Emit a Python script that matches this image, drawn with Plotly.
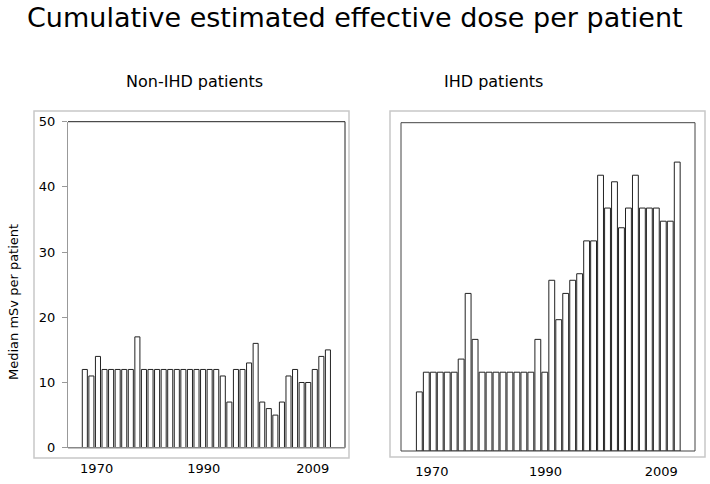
import plotly.graph_objects as go

# ---- data ----
bar_index = list(range(38))
non_ihd = [12, 11, 14, 12, 12, 12, 12, 12, 17, 12, 12, 12, 12, 12, 12, 12, 12, 12, 12, 12,
           12, 11, 7, 12, 12, 13, 16, 7, 6, 5, 7, 11, 12, 10, 10, 12, 14, 15]
ihd = [9, 12, 12, 12, 12, 12, 14, 24, 17, 12, 12, 12, 12, 12, 12, 12, 12, 17, 12, 26,
       20, 24, 26, 27, 32, 32, 42, 37, 41, 34, 37, 42, 37, 37, 37, 35, 35, 44]
x_tick_labels = ["1970", "1990", "2009"]
x_tick_positions = [1.8, 18.1, 34.7]
y_ticks = [0, 10, 20, 30, 40, 50]

W, H = 710, 484
FONT = "DejaVu Sans, Verdana, sans-serif"


def px(x):
    return x / W


def py(y):
    return 1 - y / H


fig = go.Figure()
fig.add_trace(go.Bar(x=bar_index, y=non_ihd, width=0.77, xaxis="x", yaxis="y",
                     marker=dict(color="white", line=dict(color="#222", width=1)),
                     showlegend=False, hoverinfo="y"))
fig.add_trace(go.Bar(x=bar_index, y=ihd, width=0.84, xaxis="x2", yaxis="y2",
                     marker=dict(color="white", line=dict(color="#222", width=1)),
                     showlegend=False, hoverinfo="y"))

common_x = dict(showgrid=False, zeroline=False, showline=False, ticks="", automargin=False,
                tickvals=x_tick_positions, ticktext=x_tick_labels, ticklabelstandoff=11,
                tickfont=dict(family=FONT, size=13, color="black"))

L = dict(x0=68, x1=345, y0=447.7, y1=121.7)
R = dict(x0=401, x1=695, y0=451, y1=122.7)

fig.update_layout(
    template="none",
    width=W, height=H, autosize=False,
    margin=dict(l=0, r=0, t=0, b=0, pad=0),
    paper_bgcolor="white", plot_bgcolor="white",
    font=dict(family=FONT, color="black"),
    xaxis=dict(domain=[px(L["x0"]), px(L["x1"])], range=[-2.56, 39.6], anchor="y", **common_x),
    yaxis=dict(domain=[py(L["y0"]), py(L["y1"])], range=[0, 50], anchor="x", automargin=False,
               tickvals=y_ticks, showgrid=False, zeroline=False,
               showline=True, linecolor="#999", linewidth=1,
               ticks="outside", ticklen=5, tickcolor="#999", ticklabelstandoff=4,
               tickfont=dict(family=FONT, size=13, color="black")),
    xaxis2=dict(domain=[px(R["x0"]), px(R["x1"])], range=[-2.63, 39.55], anchor="y2", **common_x),
    yaxis2=dict(domain=[py(R["y0"]), py(R["y1"])], range=[0, 50], anchor="x2", automargin=False,
                showgrid=False, zeroline=False, showticklabels=False, ticks=""),
)

shapes = []
# outer light-grey boxes
for (x0, y0, x1, y1) in [(34, 111, 349, 458), (390, 111, 705, 457)]:
    shapes.append(dict(type="rect", xref="paper", yref="paper",
                       x0=px(x0), x1=px(x1), y0=py(y1), y1=py(y0),
                       line=dict(color="#c8c8c8", width=1.5), layer="below"))
# left inner frame: top & right dark, bottom grey
shapes.append(dict(type="line", xref="paper", yref="paper", x0=px(L["x0"]), x1=px(L["x1"]),
                   y0=py(L["y1"]), y1=py(L["y1"]), line=dict(color="#222", width=1)))
shapes.append(dict(type="line", xref="paper", yref="paper", x0=px(L["x1"]), x1=px(L["x1"]),
                   y0=py(L["y0"]), y1=py(L["y1"]), line=dict(color="#222", width=1)))
shapes.append(dict(type="line", xref="paper", yref="paper", x0=px(L["x0"]), x1=px(L["x1"]),
                   y0=py(L["y0"]), y1=py(L["y0"]), line=dict(color="#888", width=1.5)))
# right inner frame
shapes.append(dict(type="rect", xref="paper", yref="paper", x0=px(R["x0"]), x1=px(R["x1"]),
                   y0=py(R["y0"]), y1=py(R["y1"]), line=dict(color="#444", width=1)))
fig.update_layout(shapes=shapes)

ann = [
    dict(text="Cumulative estimated effective dose per patient", x=px(355), y=py(18),
         font=dict(size=27)),
    dict(text="Non-IHD patients", x=px(194), y=py(81), font=dict(size=16)),
    dict(text="IHD patients", x=px(493), y=py(81), font=dict(size=16)),
    dict(text="Median mSv per patient", x=px(13), y=py(302), textangle=-90, font=dict(size=13)),
]
for a in ann:
    a.update(xref="paper", yref="paper", showarrow=False, xanchor="center", yanchor="middle")
    a["font"].update(family=FONT, color="black")
fig.update_layout(annotations=ann)

post = (
    "document.documentElement.style.overflow='hidden';"
    "document.body.style.margin='0';"
    "document.body.style.overflow='hidden';"
)
fig.write_html("out.html", post_script=post,
               config={"displayModeBar": False})
